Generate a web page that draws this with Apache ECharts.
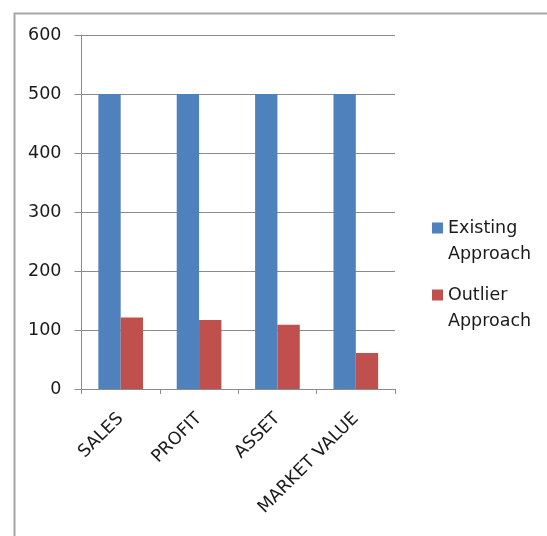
<!DOCTYPE html>
<html>
<head>
<meta charset="utf-8">
<style>
  html, body { margin: 0; padding: 0; background: #fff; }
  #chart { width: 547px; height: 536px; }
</style>
<script src="https://cdn.jsdelivr.net/npm/echarts@6/dist/echarts.min.js"></script>
</head>
<body>
<div id="chart"></div>
<script>
// Measures compared across the two approaches
const categories = ['SALES', 'PROFIT', 'ASSET', 'MARKET VALUE'];
const existingApproach = [500, 500, 500, 500];
const outlierApproach = [121, 117, 109, 61];
const yTicks = { min: 0, max: 600, step: 100 };
const seriesNames = ['Existing Approach', 'Outlier Approach'];

const FONT = 'DejaVu Sans';
const GRID_GRAY = '#8c8c8c';

const chart = echarts.init(document.getElementById('chart'), null, { renderer: 'canvas' });

chart.setOption({
  animation: false,
  backgroundColor: '#ffffff',
  textStyle: { fontFamily: FONT },
  graphic: [{
    type: 'rect',
    left: 12, top: 11,
    shape: { width: 560, height: 560 },
    style: { fill: 'none', stroke: '#a6a6a6', lineWidth: 2 },
    silent: true,
    z: -10
  }],
  grid: { left: 81.5, right: 152, top: 35, bottom: 147, containLabel: false },
  legend: {
    orient: 'vertical',
    left: 432, top: 189,
    padding: 0,
    itemWidth: 11, itemHeight: 11,
    itemGap: -11,
    itemTextGap: 7,
    icon: 'rect',
    // leading blank line keeps the swatch level with the first word
    formatter: name => '\n' + name.replace(' ', '\n'),
    textStyle: {
      fontFamily: FONT, fontSize: 17.5, color: '#1a1a1a',
      lineHeight: 26
    },
    data: seriesNames
  },
  xAxis: {
    type: 'category',
    data: categories,
    boundaryGap: true,
    axisLine: { lineStyle: { color: GRID_GRAY, width: 1 } },
    axisTick: { show: true, length: 5, lineStyle: { color: GRID_GRAY } },
    axisLabel: {
      rotate: 45, margin: 27, interval: 0,
      fontFamily: FONT, fontSize: 17.5, color: '#1a1a1a'
    }
  },
  yAxis: {
    type: 'value',
    min: yTicks.min, max: yTicks.max, interval: yTicks.step,
    axisLine: { show: true, lineStyle: { color: GRID_GRAY, width: 1 } },
    axisTick: { show: true, length: 7, lineStyle: { color: GRID_GRAY } },
    splitLine: { show: true, lineStyle: { color: GRID_GRAY, width: 1 } },
    axisLabel: { margin: 20, fontFamily: FONT, fontSize: 17.5, color: '#1a1a1a' }
  },
  series: [
    {
      name: seriesNames[0], type: 'bar', data: existingApproach,
      itemStyle: { color: '#4f81bd' },
      barGap: '0%', barCategoryGap: '43%'
    },
    {
      name: seriesNames[1], type: 'bar', data: outlierApproach,
      itemStyle: { color: '#c0504d' },
      barGap: '0%', barCategoryGap: '43%'
    }
  ]
});
</script>
</body>
</html>
